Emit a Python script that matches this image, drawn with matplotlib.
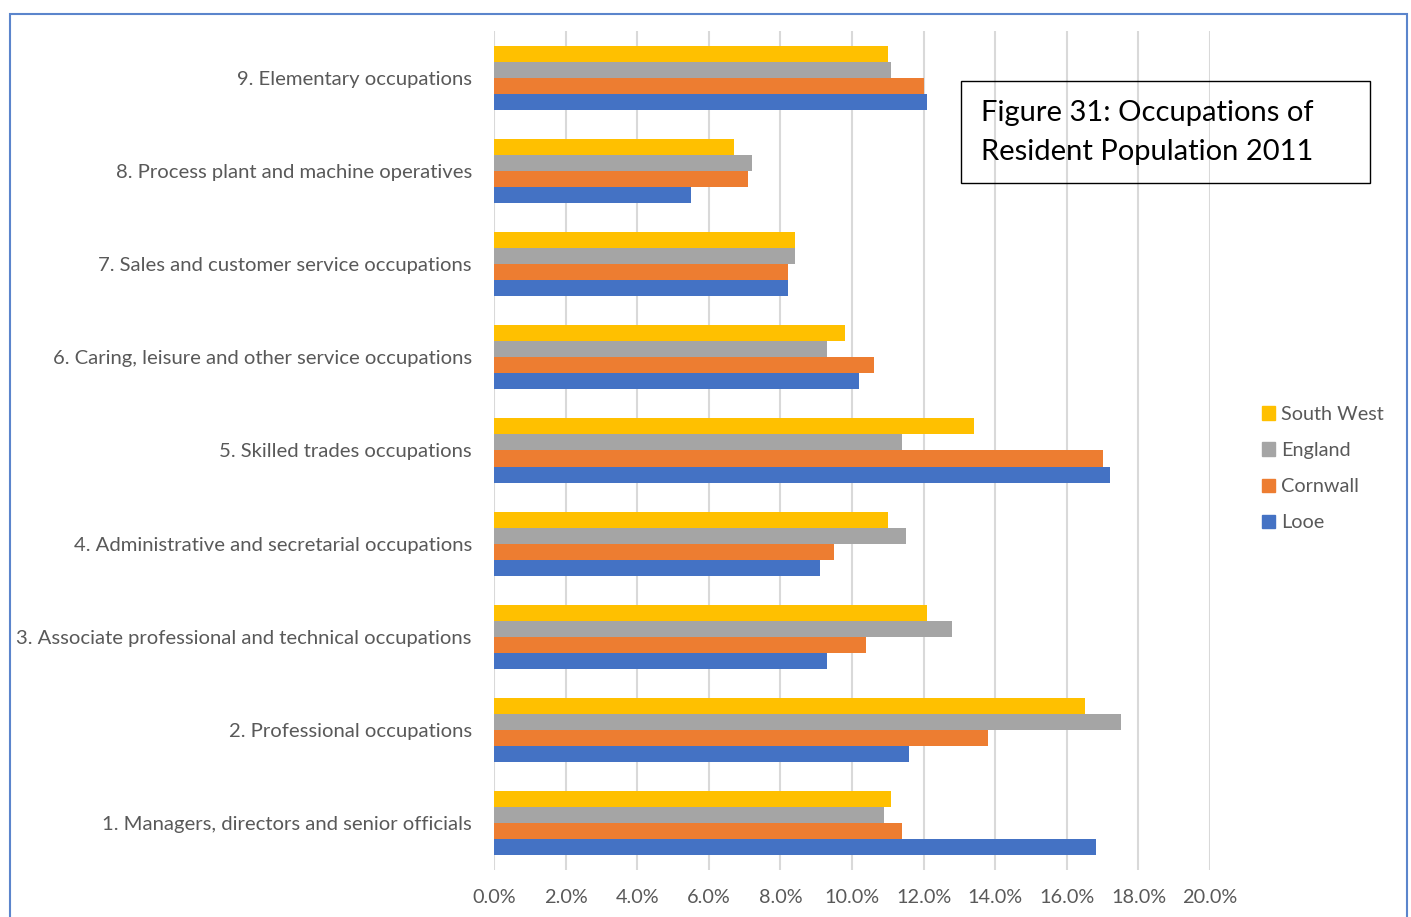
import matplotlib
matplotlib.use("Agg")
import matplotlib.pyplot as plt
from matplotlib.patches import Patch, Rectangle
from matplotlib.ticker import FuncFormatter
import numpy as np

plt.rcParams['font.family'] = ['Lato', 'DejaVu Sans']

# occupation groups, bottom to top as drawn
categories = ["1. Managers, directors and senior officials",
              "2. Professional occupations",
              "3. Associate professional and technical occupations",
              "4. Administrative and secretarial occupations",
              "5. Skilled trades occupations",
              "6. Caring, leisure and other service occupations",
              "7. Sales and customer service occupations",
              "8. Process plant and machine operatives",
              "9. Elementary occupations"]

# shares of residents in employment (fraction)
looe = [0.168, 0.116, 0.093, 0.091, 0.172, 0.102, 0.082, 0.055, 0.121]
cornwall = [0.114, 0.138, 0.104, 0.095, 0.170, 0.106, 0.082, 0.071, 0.120]
england = [0.109, 0.175, 0.128, 0.115, 0.114, 0.093, 0.084, 0.072, 0.111]
south_west = [0.111, 0.165, 0.121, 0.110, 0.134, 0.098, 0.084, 0.067, 0.110]

series_names = ["Looe", "Cornwall", "England", "South West"]
series_vals = [looe, cornwall, england, south_west]
series_cols = ["#4472C4", "#ED7D31", "#A5A5A5", "#FFC000"]

x_ticks = np.arange(0, 0.201, 0.02)

fig = plt.figure(figsize=(14.11, 9.17), dpi=100)
ax = fig.add_axes([0.3501, 0.0513, 0.5075, 0.9149])

y = np.arange(len(categories))
h = 0.172
for i, (name, vals, col) in enumerate(zip(series_names, series_vals, series_cols)):
    ax.barh(y + (i - 1.5) * h, vals, height=h, color=col, label=name, zorder=3)

ax.set_xlim(0, 0.20)
ax.set_ylim(-0.5, len(categories) - 0.5)
ax.set_xticks(x_ticks)
ax.xaxis.set_major_formatter(FuncFormatter(lambda v, p: f"{v * 100:.1f}%"))
ax.set_yticks(y)
ax.set_yticklabels(categories)
ax.grid(axis='x', color='#D9D9D9', linewidth=1.5, zorder=0)
for s in ax.spines.values():
    s.set_visible(False)
ax.tick_params(axis='x', length=0, pad=14, labelsize=14.3, labelcolor='#595959')
ax.tick_params(axis='y', length=0, pad=16, labelsize=14.6, labelcolor='#595959')

# legend, top to bottom: South West, England, Cornwall, Looe
handles = [Patch(color=c, label=n) for n, c in zip(series_names[::-1], series_cols[::-1])]
fig.legend(handles=handles, loc='upper left', bbox_to_anchor=(1262 / 1411, 1 - 406 / 917),
           frameon=False, fontsize=14.3, labelcolor='#595959', handlelength=0.65, handleheight=0.65,
           handletextpad=0.3, labelspacing=0.96, borderpad=0, borderaxespad=0)

# title box
fig.add_artist(Rectangle((961 / 1411, 1 - 183 / 917), 409 / 1411, 102 / 917,
                         transform=fig.transFigure, fill=False, edgecolor='black', linewidth=1))
fig.text(981 / 1411, 1 - 132.5 / 917, "Figure 31: Occupations of\nResident Population 2011",
         fontsize=21, color='black', va='center', ha='left', linespacing=1.6)

# outer frame
fig.add_artist(Rectangle((10 / 1411, -0.01), 1397 / 1411, 1 - 14 / 917 + 0.01,
                         transform=fig.transFigure, fill=False, edgecolor='#5B85CC', linewidth=1.5))

fig.savefig("out.png", dpi=100)
